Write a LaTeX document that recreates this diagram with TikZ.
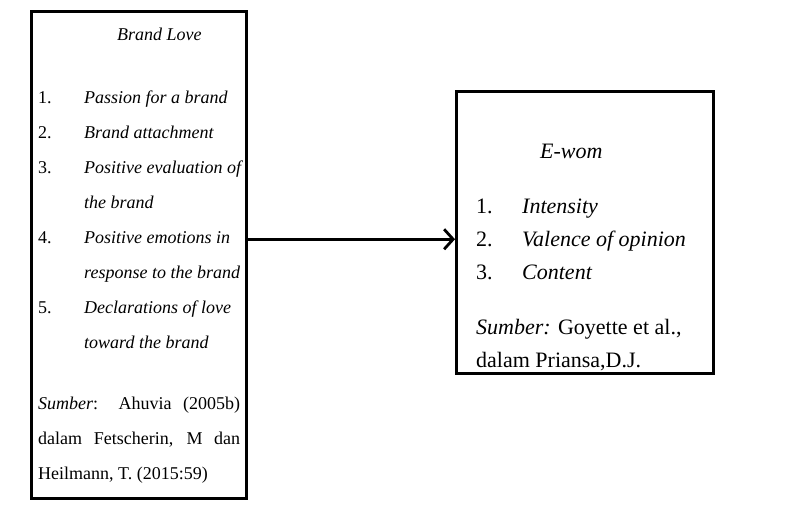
\documentclass[tikz,border=0pt]{standalone}
\usepackage{fontspec}
\setmainfont{Liberation Serif}
\usetikzlibrary{arrows.meta}

% number column of the lists
\newcommand{\itemno}[1]{\makebox[46pt][l]{#1}}
\newcommand{\itemgap}{\hspace*{46pt}}

\begin{document}
\begin{tikzpicture}[x=1pt,y=-1pt,
    framebox/.style={draw, line width=2.5pt, inner sep=0pt, anchor=north west},
    boxtext/.style={anchor=base west, inner sep=0pt, align=flush left,
        font=\fontsize{18}{35}\selectfont},
    link/.style={line width=2.5pt,
        -{Straight Barb[length=9pt,width=20pt,line width=2.8pt]}}]

    \useasboundingbox (0,0) rectangle (810,504);

    % Brand Love box
    \node[framebox, minimum width=215pt, minimum height=487pt] (brandlove) at (30,10) {};
    \node[boxtext, text width=260pt] (brandlovetext) at (38,40) {
        \hspace*{79pt}\textit{Brand Love}\\[28pt]
        \itemno{1.}\textit{Passion for a brand}\\
        \itemno{2.}\textit{Brand attachment}\\
        \itemno{3.}\textit{Positive evaluation of}\\
        \itemgap\textit{the brand}\\
        \itemno{4.}\textit{Positive emotions in}\\
        \itemgap\textit{response to the brand}\\
        \itemno{5.}\textit{Declarations of love}\\
        \itemgap\textit{toward the brand}\\[26pt]
        \makebox[202pt][s]{\textit{Sumber}: Ahuvia (2005b)}\\
        \makebox[202pt][s]{dalam Fetscherin, M dan}\\
        Heilmann, T. (2015:59)
    };

    % E-wom box
    \node[framebox, minimum width=257pt, minimum height=282pt] (ewom) at (455,90) {};
    \node[boxtext, text width=300pt, font=\fontsize{22}{33}\selectfont] (ewomtext) at (476,158) {
        \hspace*{64pt}\textit{E-wom}\\[22pt]
        \itemno{1.}\textit{Intensity}\\
        \itemno{2.}\textit{Valence of opinion}\\
        \itemno{3.}\textit{Content}\\[22pt]
        \textit{Sumber:} Goyette et al.,\\
        dalam Priansa,D.J.
    };

    % arrow
    \draw[link] ([yshift=-7pt]brandlove.east |- ewom.west) -- ([yshift=-7pt]ewom.west);

\end{tikzpicture}
\end{document}
